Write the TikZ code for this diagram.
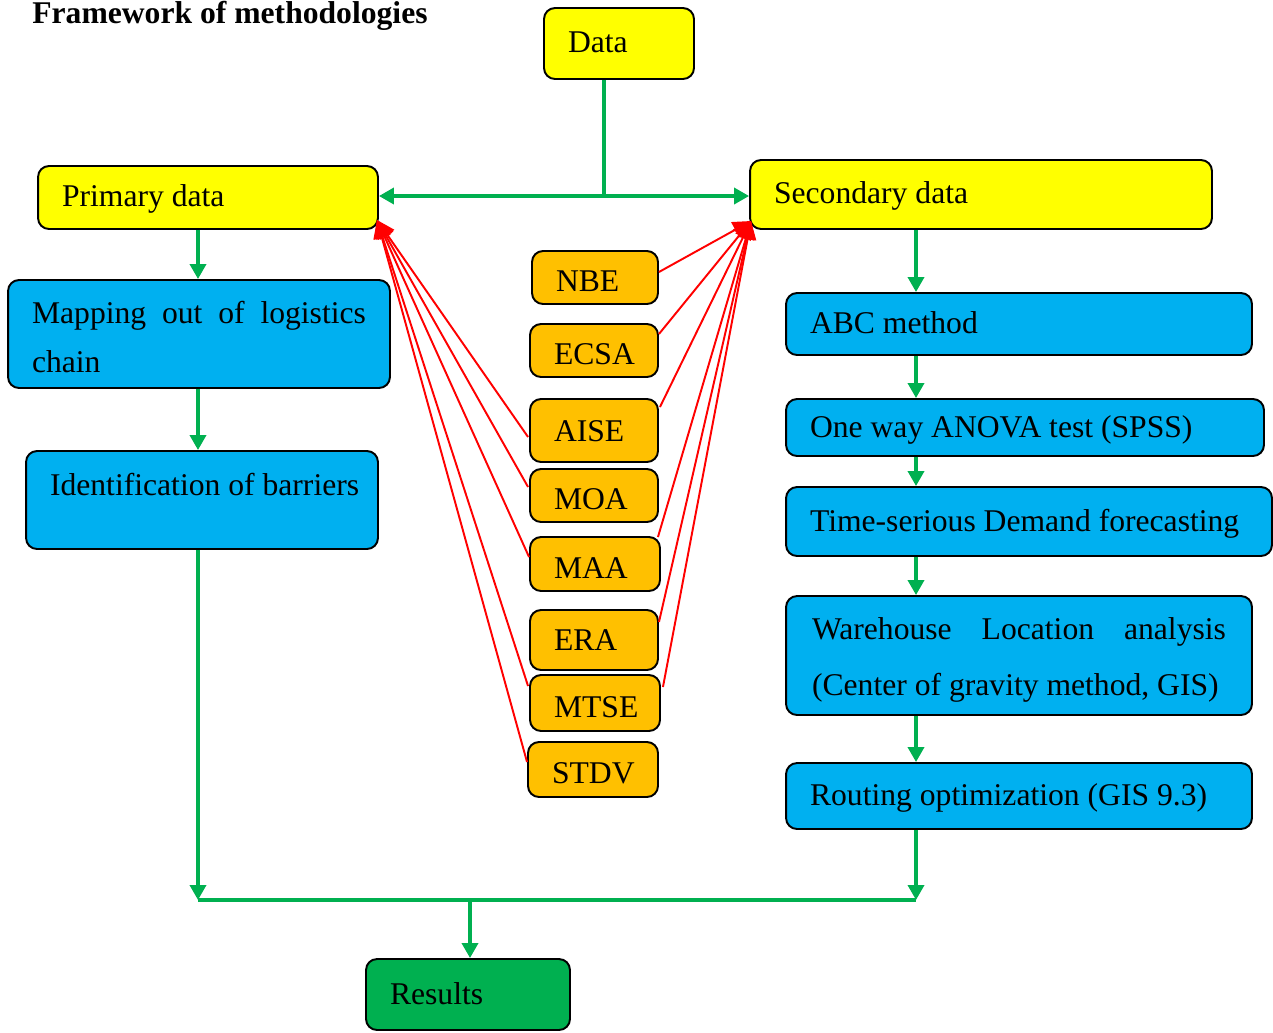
\documentclass[tikz,border=0pt]{standalone}
\usepackage{fontspec}
\setmainfont{Liberation Serif}
\usetikzlibrary{arrows.meta,calc}
\definecolor{boxyellow}{HTML}{FFFF00}
\definecolor{boxblue}{HTML}{00B0F0}
\definecolor{boxorange}{HTML}{FFC000}
\definecolor{boxgreen}{HTML}{00B050}
\definecolor{flowgreen}{HTML}{00B050}
\definecolor{linkred}{HTML}{FF0000}

\begin{document}
\begin{tikzpicture}[x=0.02cm,y=-0.02cm,
  box/.style={draw=black, line width=1.1pt, rounded corners=0.22cm,
    inner xsep=0.48cm, inner ysep=0pt, align=left,
    font=\fontsize{18}{28}\selectfont,
    execute at begin node={\spaceskip=0pt\xspaceskip=0pt\relax}},
  oneline/.style={text height=14pt, text depth=3.2pt},
  yellowbox/.style={box, oneline, fill=boxyellow},
  bluebox/.style={box, fill=boxblue},
  orangebox/.style={box, text height=17pt, text depth=1pt, fill=boxorange},
  flow/.style={draw=flowgreen, line width=2pt},
  flowarrow/.style={flow, -{Triangle[length=0.3cm,width=0.32cm]}},
  link/.style={draw=linkred, line width=1.1pt, -{Triangle[length=0.36cm,width=0.34cm]}}
]
\useasboundingbox (0,0) rectangle (1273,1032);

% title
\node[anchor=base west, inner sep=0pt, font=\fontsize{18}{22}\selectfont\bfseries] (title) at (32,23) {Framework of methodologies};

% data sources
\node[yellowbox, minimum width=3cm, minimum height=1.42cm, text width=2.04cm] (data) at (619,43.5) {Data};
\node[yellowbox, minimum width=6.8cm, minimum height=1.26cm, text width=5.84cm] (primary) at (208,197.5) {Primary data};
\node[yellowbox, minimum width=9.24cm, minimum height=1.38cm, text width=8.28cm] (secondary) at (981,194.5) {Secondary data};

% primary data branch
\node[bluebox, minimum width=7.64cm, minimum height=2.16cm, text width=6.68cm, font=\fontsize{18}{27.8}\selectfont] (mapping) at (199,334)
  {\rule{0pt}{15.8pt}\makebox[6.68cm][s]{Mapping out of logistics}\\chain};
\node[bluebox, minimum width=7.04cm, minimum height=1.96cm, text width=6.08cm, text height=12.6pt, text depth=18pt] (barriers) at (202,500) {\mbox{Identification of barriers}};

% data collection tools
\node[orangebox, minimum width=2.52cm, minimum height=1.06cm, text width=1.56cm] (nbe) at (595,277.5) {NBE};
\node[orangebox, minimum width=2.56cm, minimum height=1.06cm, text width=1.6cm] (ecsa) at (594,350.5) {ECSA};
\node[orangebox, text height=15pt, text depth=2.6pt, minimum width=2.56cm, minimum height=1.26cm, text width=1.6cm] (aise) at (594,430.5) {AISE};
\node[orangebox, minimum width=2.56cm, minimum height=1.06cm, text width=1.6cm] (moa) at (594,495.5) {MOA};
\node[orangebox, minimum width=2.6cm, minimum height=1.08cm, text width=1.64cm] (maa) at (595,564) {MAA};
\node[orangebox, text height=15pt, text depth=2.6pt, minimum width=2.56cm, minimum height=1.2cm, text width=1.6cm] (era) at (594,640) {ERA};
\node[orangebox, minimum width=2.6cm, minimum height=1.12cm, text width=1.64cm] (mtse) at (595,703) {MTSE};
\node[orangebox, minimum width=2.6cm, minimum height=1.1cm, text width=1.64cm] (stdv) at (593,769.5) {STDV};

% secondary data branch
\node[bluebox, oneline, minimum width=9.32cm, minimum height=1.24cm, text width=8.36cm] (abc) at (1019,324) {ABC method};
\node[bluebox, oneline, minimum width=9.56cm, minimum height=1.14cm, text width=8.6cm] (anova) at (1025,427.5) {One way ANOVA test (SPSS)};
\node[bluebox, oneline, minimum width=9.72cm, minimum height=1.38cm, text width=8.76cm] (forecast) at (1029,521.5) {Time-serious Demand forecasting};
\node[bluebox, inner xsep=0.52cm, minimum width=9.32cm, minimum height=2.38cm, text width=8.28cm, font=\fontsize{18}{31.9}\selectfont] (warehouse) at (1019,655.5)
  {\rule{0pt}{18pt}\makebox[8.28cm][s]{Warehouse Location analysis}\\\mbox{(Center of gravity method, GIS)}};
\node[bluebox, oneline, minimum width=9.32cm, minimum height=1.32cm, text width=8.36cm] (routing) at (1019,796) {Routing optimization (GIS 9.3)};

% outcome
\node[box, oneline, fill=boxgreen, minimum width=4.08cm, minimum height=1.42cm, text width=3.12cm] (results) at (468,994.5) {Results};

% connector routing points
\coordinate (split) at (604,196);
\coordinate (lcol) at (198,0);
\coordinate (rcol) at (916,0);
\coordinate (joinl) at (198,900);
\coordinate (joinr) at (916,900);
\coordinate (joinm) at (470,900);
\coordinate (ptip) at (377,220);
\coordinate (stip) at (751,221);

% green flow
\draw[flow] (split |- data.south) -- (split);
\draw[flowarrow] (split) -- (split -| primary.east);
\draw[flowarrow] (split) -- (split -| secondary.west);
\draw[flowarrow] (lcol |- primary.south) -- (lcol |- mapping.north);
\draw[flowarrow] (lcol |- mapping.south) -- (lcol |- barriers.north);
\draw[flowarrow] (lcol |- barriers.south) -- (joinl);
\draw[flowarrow] (rcol |- secondary.south) -- (rcol |- abc.north);
\draw[flowarrow] (rcol |- abc.south) -- (rcol |- anova.north);
\draw[flowarrow] (rcol |- anova.south) -- (rcol |- forecast.north);
\draw[flowarrow] (rcol |- forecast.south) -- (rcol |- warehouse.north);
\draw[flowarrow] (rcol |- warehouse.south) -- (rcol |- routing.north);
\draw[flowarrow] (rcol |- routing.south) -- (joinr);
\draw[flow] (joinl) -- (joinr);
\draw[flowarrow] (joinm) -- (joinm |- results.north);

% red links to primary data
\draw[link] ($(aise.west)+(-1,6.5)$) -- (ptip);
\draw[link] ($(moa.west)+(-1,-8.5)$) -- (ptip);
\draw[link] ($(maa.west)+(0,-7)$) -- (ptip);
\draw[link] ($(mtse.west)+(-1,-17)$) -- (ptip);
\draw[link] ($(stdv.west)+(0,-7.5)$) -- (ptip);

% red links to secondary data
\draw[link] ($(nbe.east)+(0,-5.5)$) -- (stip);
\draw[link] ($(ecsa.east)+(0,-16.5)$) -- (stip);
\draw[link] ($(aise.east)+(1,-23.5)$) -- (stip);
\draw[link] ($(maa.north east)+(-3,1)$) -- (stip);
\draw[link] ($(era.east)+(0,-18)$) -- (stip);
\draw[link] ($(mtse.east)+(2,-16)$) -- (stip);
\end{tikzpicture}
\end{document}
